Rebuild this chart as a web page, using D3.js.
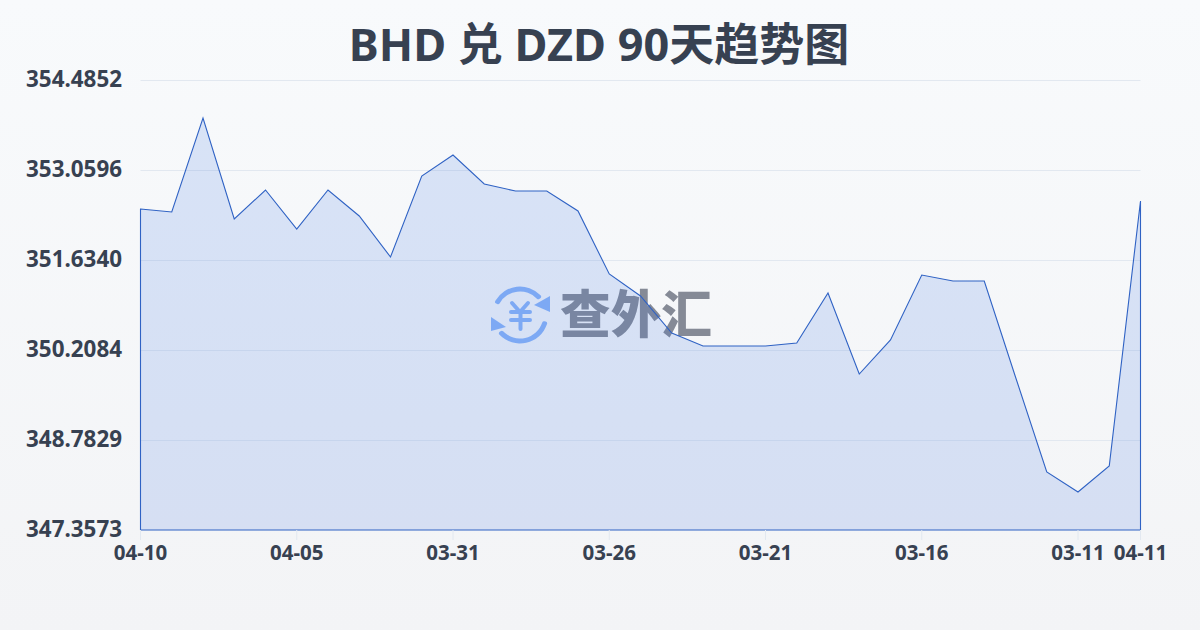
<!DOCTYPE html>
<html><head><meta charset="utf-8">
<script src="https://cdn.jsdelivr.net/npm/d3@7"></script>
<style>
html,body{margin:0;padding:0;width:1200px;height:630px;overflow:hidden}
svg{display:block}
text{font-family:"Noto Sans","Noto Sans CJK SC",sans-serif}
</style></head><body><svg id="c" width="1200" height="630"></svg>
<script>
const titleText = "BHD 兑 DZD 90天趋势图";
const watermarkText = "查外汇";
const categories = ["04-10","04-09","04-08","04-07","04-06","04-05","04-04","04-03","04-02","04-01","03-31","03-30","03-29","03-28","03-27","03-26","03-25","03-24","03-23","03-22","03-21","03-20","03-19","03-18","03-17","03-16","03-15","03-14","03-13","03-12","03-11","03-10","04-11"];
const values = [352.4419,352.3944,353.8833,352.2835,352.7429,352.1251,352.7429,352.3311,351.6816,352.9647,353.2973,352.8379,352.7271,352.7271,352.4103,351.4123,351.0639,350.4778,350.2719,350.2719,350.2719,350.3194,351.1114,349.8283,350.3669,351.3965,351.3015,351.3015,349.7808,348.276,347.9592,348.3711,352.5687];
const yTickValues = [347.3573,348.7829,350.2084,351.6340,353.0596,354.4852];
const xTickLabels = ["04-10","04-05","03-31","03-26","03-21","03-16","03-11","04-11"];

const svg = d3.select("#c");
const W = 1200, H = 630, L = 140.5, R = 1140.5, T = 80, B = 530;
const defs = svg.append("defs");
const bg = defs.append("linearGradient").attr("id","bg").attr("x1",0).attr("y1",0).attr("x2",0).attr("y2",1);
bg.append("stop").attr("offset",0).attr("stop-color","#f8fafc");
bg.append("stop").attr("offset",1).attr("stop-color","#f3f4f6");
svg.append("rect").attr("width",W).attr("height",H).attr("fill","url(#bg)");

const x = d3.scalePoint().domain(categories.map((d,i)=>i)).range([L,R]);
const y = d3.scaleLinear().domain([yTickValues[0],yTickValues[5]]).range([B,T]);

svg.append("g").selectAll("line").data(yTickValues.slice(1)).join("line")
  .attr("x1",L).attr("x2",R).attr("y1",d=>Math.round(y(d))+0.5).attr("y2",d=>Math.round(y(d))+0.5)
  .attr("stroke","#e2e8f0").attr("stroke-width",1);

const wm = svg.append("g");
const cx = 520, cy = 315;
const blue = "#8ab4f8";
const arc = d3.arc().innerRadius(23.5).outerRadius(28.5).cornerRadius(2);
wm.append("path").attr("transform",`translate(${cx},${cy})`).attr("fill",blue).attr("d",arc({startAngle:-1.12,endAngle:0.88}));
wm.append("path").attr("transform",`translate(${cx},${cy})`).attr("fill",blue).attr("d",arc({startAngle:1.82,endAngle:4.02}));
wm.append("path").attr("fill",blue).attr("d",d3.line()([[550,296],[550,312],[534,305]])+"Z");
wm.append("path").attr("fill",blue).attr("d",d3.line()([[491,317],[491,331],[506,327]])+"Z");
wm.append("path").attr("fill","none").attr("stroke",blue).attr("stroke-width",4).attr("stroke-linecap","round").attr("stroke-linejoin","round")
  .attr("d","M512 303L520 312L528 303M511 312H530M511 320H530M520.5 312V329");
wm.append("text").attr("x",560).attr("y",333).attr("font-size",51).attr("font-weight",900).attr("fill","#858a96").attr("textLength",152).attr("lengthAdjust","spacingAndGlyphs").text(watermarkText);

const area = d3.area().x((d,i)=>x(i)).y0(B).y1(d=>y(d));
svg.append("path").datum(values).attr("d",area).attr("fill","#3f74e0").attr("fill-opacity",0.17).attr("stroke","none");
svg.append("path").datum(values).attr("d",area).attr("fill","none").attr("stroke","#2f62c4").attr("stroke-width",1.1);

const tickIdx = categories.map((d,i)=>i).filter(i=>[0,5,10,15,20,25,30,32].includes(i));
svg.append("g").selectAll("line").data(tickIdx).join("line")
  .attr("x1",i=>x(i)).attr("x2",i=>x(i)).attr("y1",B).attr("y2",B+10).attr("stroke","#e2e8f0");
svg.append("g").selectAll("text").data(xTickLabels).join("text")
  .attr("x",(d,k)=>x(tickIdx[k])).attr("y",560).attr("text-anchor","middle")
  .attr("font-size",20.5).attr("font-weight",700).attr("fill","#374151").text(d=>d);
svg.append("g").selectAll("text").data(yTickValues).join("text")
  .attr("x",122).attr("y",d=>y(d)+7).attr("text-anchor","end")
  .attr("font-size",22.4).attr("font-weight",700).attr("fill","#374151").text(d=>d.toFixed(4));
svg.append("text").attr("x",599).attr("y",60.5).attr("text-anchor","middle")
  .attr("font-size",45).attr("font-weight",700).attr("fill","#374151").text(titleText);
</script></body></html>
